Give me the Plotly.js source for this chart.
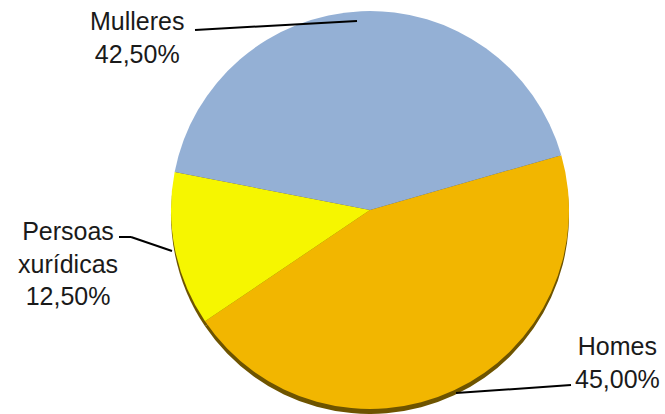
<!DOCTYPE html>
<html>
<head>
<meta charset="utf-8">
<script src="https://cdn.plot.ly/plotly-3.0.1.min.js"></script>
<style>html,body{margin:0;padding:0;background:#fff;}#chart{width:665px;height:414px;}</style>
</head>
<body>
<div id="chart"></div>
<script>
const categories = ["Homes", "Persoas xurídicas", "Mulleres"];
const labelLines = ["Homes", "Persoas<br>xurídicas", "Mulleres"];
const values = [45.0, 12.5, 42.5];
const colors = ["#F2B600", "#F6F600", "#94B0D5"];

const fmt = v => v.toFixed(2).replace(".", ",") + "%";

const W = 665, H = 414;
const cx = 370, cy = 210, r = 199;
const dom = (ox, oy) => ({
  x: [(cx + ox - r) / W, (cx + ox + r) / W],
  y: [1 - (cy + oy + r) / H, 1 - (cy + oy - r) / H]
});

const shadow = {
  type: "pie", values: values, labels: categories, sort: false,
  direction: "clockwise", rotation: 74, textinfo: "none", hoverinfo: "skip",
  marker: {colors: categories.map(() => "#6E5400"), line: {width: 0}},
  domain: dom(0, 5), showlegend: false
};
const pie = {
  type: "pie", values: values, labels: categories, sort: false,
  direction: "clockwise", rotation: 74, textinfo: "none",
  marker: {colors: colors, line: {width: 0}},
  domain: dom(0, 0), showlegend: false
};

const font = {family: "Liberation Sans, Arial, sans-serif", size: 25, color: "#1a1a1a"};
const px = x => x / W, py = y => 1 - y / H;
const annotations = [
  {text: labelLines[2] + "<br>" + fmt(values[2]), x: px(137), y: py(38)},
  {text: labelLines[1] + "<br>" + fmt(values[1]), x: px(68), y: py(263)},
  {text: labelLines[0] + "<br>" + fmt(values[0]), x: px(617), y: py(362)}
].map(a => Object.assign(a, {xref: "paper", yref: "paper", xanchor: "center", yanchor: "middle",
  showarrow: false, font: font, align: "center"}));

const line = (x0, y0, x1, y1) => ({type: "line", xref: "paper", yref: "paper",
  x0: px(x0), y0: py(y0), x1: px(x1), y1: py(y1), line: {color: "#000", width: 2}});
const shapes = [
  line(195, 30, 357, 21),
  line(119, 237, 131, 237),
  line(131, 237, 172, 251),
  line(456, 393, 571, 385)
];

Plotly.newPlot("chart", [shadow, pie], {
  width: W, height: H, margin: {l: 0, r: 0, t: 0, b: 0},
  paper_bgcolor: "#fff", annotations: annotations, shapes: shapes, showlegend: false
}, {displayModeBar: false, staticPlot: true});
</script>
</body>
</html>
